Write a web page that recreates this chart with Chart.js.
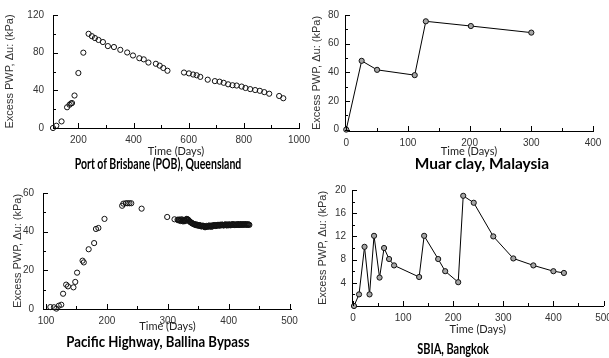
<!DOCTYPE html>
<html>
<head>
<meta charset="utf-8">
<script src="https://cdn.jsdelivr.net/npm/chart.js@4.4.0/dist/chart.umd.min.js"></script>
<style>
  body { margin: 0; background: #fff; }
  #fig { position: relative; width: 609px; height: 358px; overflow: hidden; background: #fff; }
  .panel { position: absolute; }
  .site { position: absolute; font-family: Lato, 'Open Sans', sans-serif; font-weight: 700; font-size: 15px;
          color: #000; white-space: nowrap; }
</style>
</head>
<body>
<div id="fig">
  <div class="panel" style="left:0;top:0;width:318px;height:160px"><canvas id="pob"></canvas></div>
  <div class="panel" style="left:304px;top:0;width:305px;height:160px"><canvas id="muar"></canvas></div>
  <div class="panel" style="left:0;top:178px;width:304px;height:160px"><canvas id="ballina"></canvas></div>
  <div class="panel" style="left:304px;top:178px;width:320px;height:160px"><canvas id="sbia"></canvas></div>
  <div class="site" style="left:158px;top:163px;transform:translate(-50%,-50%) scaleX(0.7)">Port of Brisbane (POB), Queensland</div>
  <div class="site" style="left:482px;top:163px;transform:translate(-50%,-50%) scaleX(1.03)">Muar clay, Malaysia</div>
  <div class="site" style="left:158px;top:341px;transform:translate(-50%,-50%) scaleX(0.88)">Pacific Highway, Ballina Bypass</div>
  <div class="site" style="left:453px;top:348px;transform:translate(-50%,-50%) scaleX(0.73)">SBIA, Bangkok</div>
</div>
<script>
// Port of Brisbane (POB), Queensland
const pobDays = [108, 120, 139, 159, 168, 173, 177, 186, 200, 218, 237, 249, 260, 273, 289, 307, 329, 352, 377, 398,
  421, 437, 454, 481, 495, 508, 523, 583, 601, 616, 629, 642, 669, 695, 712, 727, 743, 759, 774, 792,
  806, 823, 841, 858, 874, 892, 928, 943]
const pobPwp = [0, 2.4, 7, 22, 24.7, 26, 26.5, 34.5, 58.4, 80, 100, 97.5, 95.5, 93.5, 91.3, 87, 86, 83, 80.2, 77,
  74.1, 72.9, 69.5, 68.2, 66.2, 63.7, 60.8, 58.9, 58, 56.8, 56, 54.3, 51.3, 49.8, 49.2, 48, 46.4, 45.4, 45.1, 44,
  42.5, 41.3, 40.3, 39.5, 38.1, 36.4, 34, 31.6]
const pobXTicks = [200, 400, 600, 800, 1000]
const pobYTicks = [0, 40, 80, 120]

// Muar clay, Malaysia
const muarDays = [0, 25, 50, 111, 129, 202, 300]
const muarPwp = [0, 48, 41.7, 38, 75.6, 72.3, 67.7]
const muarXTicks = [0, 100, 200, 300, 400]
const muarYTicks = [0, 20, 40, 60, 80]

// Pacific Highway, Ballina Bypass (dense daily readings from day 316)
const ballinaDays = [107, 113, 117, 121, 125, 128, 133, 136, 145, 148, 151, 160, 162, 170, 179, 182, 186, 196,
  225, 227, 231, 234, 237, 240, 257, 299, 311,
  316, 317, 318, 319, 320, 321, 322, 323, 324, 325, 326, 327, 328, 329, 330, 331, 332, 333, 334, 335,
  336, 337, 338, 339, 340, 341, 342, 343, 344, 345, 346, 347, 348, 349, 350, 351, 352, 353, 354, 355,
  356, 357, 358, 359, 360, 361, 362, 363, 364, 365, 366, 367, 368, 369, 370, 371, 372, 373, 374, 375,
  376, 377, 378, 379, 380, 381, 382, 383, 384, 385, 386, 387, 388, 389, 390, 391, 392, 393, 394, 395,
  396, 397, 398, 399, 400, 401, 402, 403, 404, 405, 406, 407, 408, 409, 410, 411, 412, 413, 414, 415,
  416, 417, 418, 419, 420, 421, 422, 423, 424, 425, 426, 427, 428, 429, 430, 431, 432, 433, 434]
const ballinaPwp = [1, 0.9, 0.2, 1.7, 2.2, 7.9, 12.6, 11.7, 11.2, 14, 18.8, 25, 24.1, 30.9, 34.1, 41.4, 41.9, 46.6,
  53.4, 54.5, 54.7, 54.7, 54.7, 54.7, 51.9, 47.6, 46.4,
  46.2, 45.9, 46.0, 46.3, 45.8, 45.5, 46.1, 46.4, 45.6, 45.3, 45.9, 46.0, 45.4, 45.7, 46.3, 46.6, 46.5, 46.2, 46.0, 45.6,
  45.2, 45.0, 44.8, 44.5, 44.4, 44.2, 44.0, 43.8, 43.7, 43.9, 43.5, 43.3, 43.6, 43.5, 43.2, 43.0, 43.4, 43.3, 43.0, 42.7,
  42.8, 43.0, 43.1, 42.8, 42.6, 42.3, 42.4, 42.7, 43.0, 42.5, 42.7, 43.0, 43.2, 42.6, 42.9, 43.1, 42.5, 42.8, 43.3, 43.2,
  43.0, 43.4, 43.4, 42.9, 43.1, 43.3, 43.5, 43.5, 43.2, 43.1, 43.6, 43.4, 43.3, 43.7, 43.5, 43.3, 43.2, 43.5, 43.6, 43.8,
  43.4, 43.2, 43.7, 43.5, 43.3, 43.8, 43.6, 43.3, 43.4, 43.6, 43.8, 43.9, 43.5, 43.4, 43.7, 43.7, 43.4, 43.5, 43.8, 43.9,
  43.6, 43.4, 43.9, 43.7, 43.5, 43.9, 43.8, 43.5, 43.6, 43.8, 43.9, 43.6, 43.7, 43.9, 43.6, 43.5, 43.8, 43.7, 43.5]
const ballinaXTicks = [100, 200, 300, 400, 500]
const ballinaYTicks = [0, 20, 40, 60]

// SBIA, Bangkok
const sbiaDays = [2, 12, 23, 33, 42, 53, 62, 72, 82, 132, 142, 170, 184, 210, 220, 241, 280, 320, 360, 400, 421]
const sbiaPwp = [0, 2, 10.2, 2, 12.1, 4.9, 10, 8.1, 7, 5, 12.1, 8.1, 6, 4.1, 19, 17.8, 12, 8.2, 7, 6, 5.7]
const sbiaXTicks = [0, 100, 200, 300, 400, 500]
const sbiaYTicks = [4, 8, 12, 16, 20]

const tickFont = { family: "'Liberation Sans', Arial, sans-serif", size: 10 }
const axisFont = { family: "'Liberation Sans', Arial, sans-serif", size: 11 }
const timeFont = { family: "Lato, 'Open Sans', sans-serif", size: 11 }

// major + half-step minor tick positions for one scale
function marks(scale) {
  const vals = scale.ticks.map(t => t.value)
  const half = (vals[1] - vals[0]) / 2
  const out = vals.map(v => [v, true])
  vals.forEach(v => { if (v + half <= scale.max) out.push([v + half, false]) })
  if (vals[0] - half >= scale.min) out.push([vals[0] - half, false])
  return out
}

// tick marks pointing into the plot, like the original figure
const insideTicks = {
  id: 'insideTicks',
  afterDraw(chart) {
    const { ctx, chartArea: a, scales: { x, y } } = chart
    ctx.save()
    ctx.strokeStyle = '#000'
    ctx.lineWidth = 1
    ctx.beginPath()
    marks(x).forEach(([v, major]) => {
      const px = Math.round(x.getPixelForValue(v)) + 0.5
      ctx.moveTo(px, a.bottom)
      ctx.lineTo(px, a.bottom - (major ? 5 : 3))
    })
    marks(y).forEach(([v, major]) => {
      const py = Math.round(y.getPixelForValue(v)) + 0.5
      ctx.moveTo(a.left, py)
      ctx.lineTo(a.left + (major ? 5 : 3), py)
    })
    ctx.stroke()
    ctx.restore()
  }
}

function panel(id, days, pwp, o) {
  return new Chart(document.getElementById(id), {
    type: 'scatter',
    data: {
      datasets: [{
        data: days.map((d, i) => ({ x: d, y: pwp[i] })),
        showLine: o.line,
        borderColor: '#000',
        borderWidth: 1,
        pointRadius: 2.6,
        pointBorderWidth: 1,
        pointBorderColor: '#111',
        pointBackgroundColor: o.fill,
        clip: false
      }]
    },
    options: {
      animation: false,
      responsive: true,
      maintainAspectRatio: false,
      layout: { padding: { top: o.top, right: o.right, left: 0, bottom: 0 } },
      plugins: { legend: { display: false }, tooltip: { enabled: false } },
      scales: {
        x: {
          type: 'linear', min: o.xMin, max: o.xMax,
          afterBuildTicks: s => { s.ticks = o.xTicks.map(v => ({ value: v })) },
          afterFit: s => { s.height = o.xh },
          grid: { display: false, drawTicks: false },
          border: { color: '#000', width: 1 },
          ticks: { font: tickFont, color: '#333', padding: 6, maxRotation: 0, autoSkip: false, callback: v => String(v) },
          title: { display: true, text: 'Time (Days)', font: timeFont, color: '#222', padding: { top: 0, bottom: o.tpad } }
        },
        y: {
          type: 'linear', min: o.yMin, max: o.yMax,
          afterBuildTicks: s => { s.ticks = o.yTicks.map(v => ({ value: v })) },
          afterFit: s => { s.width = o.yw },
          grid: { display: false, drawTicks: false },
          border: { color: '#000', width: 1 },
          ticks: { font: tickFont, color: '#333', padding: o.ypad, autoSkip: false, callback: v => String(v) },
          title: { display: true, text: 'Excess PWP, Δu: (kPa)', font: axisFont, color: '#333', padding: { top: o.ytpad, bottom: 0 } }
        }
      }
    },
    plugins: [insideTicks]
  })
}

panel('pob', pobDays, pobPwp, {
  line: false, fill: 'rgba(0,0,0,0)', top: 13, right: 19, yw: 53, xh: 32, tpad: 2.4, ypad: 9, ytpad: 3.4,
  xMin: 108, xMax: 1000, yMin: 0, yMax: 120, xTicks: pobXTicks, yTicks: pobYTicks
})
panel('muar', muarDays, muarPwp, {
  line: true, fill: '#a6a6a6', top: 15, right: 16, yw: 41, xh: 29, tpad: 2.4, ypad: 6, ytpad: 6.4,
  xMin: -2, xMax: 400, yMin: -1, yMax: 80, xTicks: muarXTicks, yTicks: muarYTicks
})
panel('ballina', ballinaDays, ballinaPwp, {
  line: false, fill: 'rgba(0,0,0,0)', top: 15, right: 12, yw: 43, xh: 29, tpad: 4.7, ypad: 9, ytpad: 11.4,
  xMin: 95, xMax: 504, yMin: 0, yMax: 60, xTicks: ballinaXTicks, yTicks: ballinaYTicks
})
panel('sbia', sbiaDays, sbiaPwp, {
  line: true, fill: '#a6a6a6', top: 11, right: 20.5, yw: 48, xh: 32, tpad: 2.1, ypad: 6, ytpad: 12.4,
  xMin: -2, xMax: 500, yMin: 0, yMax: 20, xTicks: sbiaXTicks, yTicks: sbiaYTicks
})
</script>
</body>
</html>
